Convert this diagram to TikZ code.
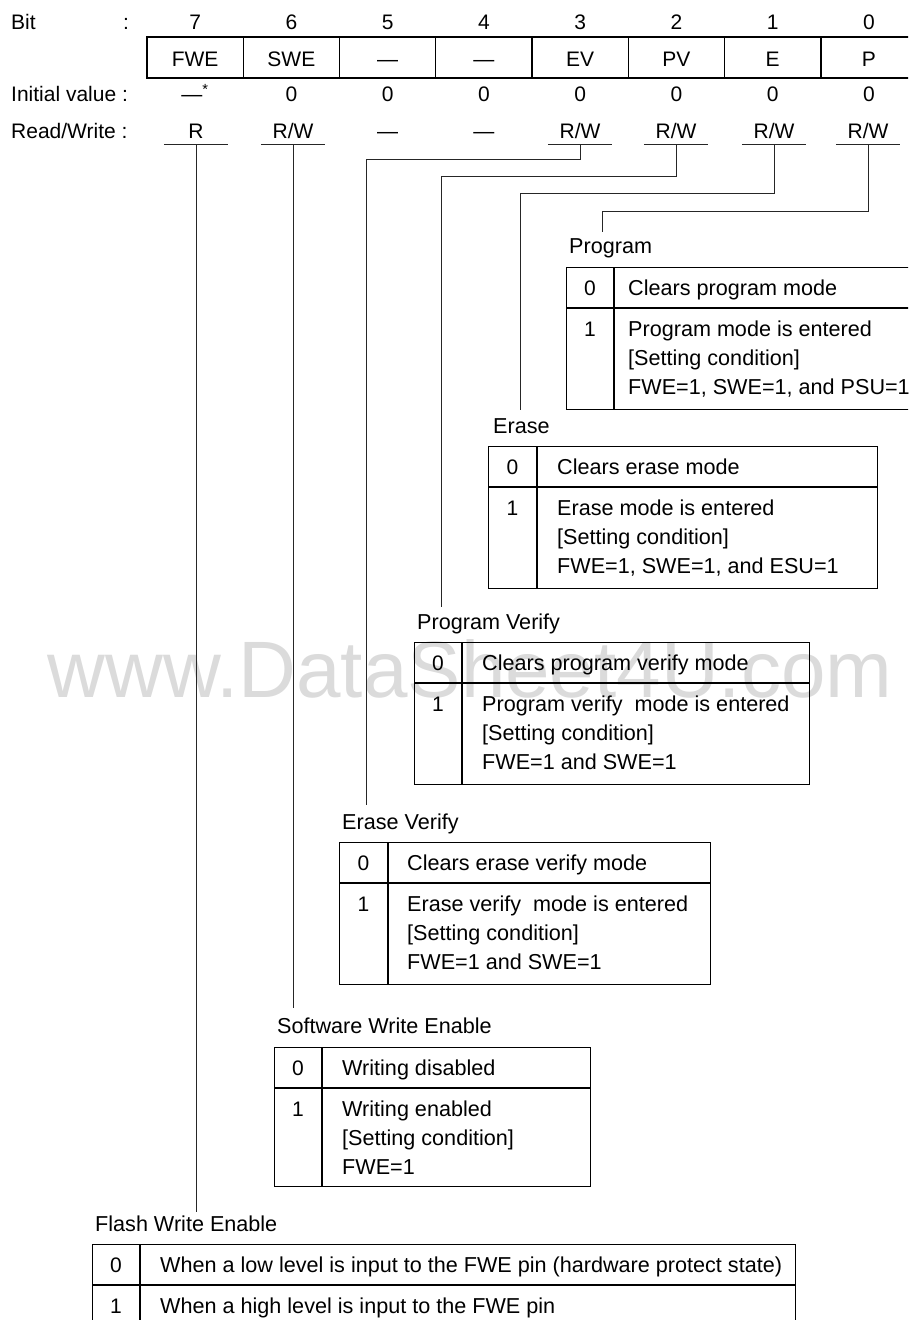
\documentclass[tikz,border=0pt]{standalone}
\usepackage{fontspec}
\setmainfont{Liberation Sans}
\begin{document}
\begin{tikzpicture}[x=1pt, y=-1pt,
  every node/.style={inner sep=0pt, font=\fontsize{21}{29}\selectfont},
  lbl/.style={anchor=base west, font=\fontsize{21.6}{29}\selectfont},
  num/.style={anchor=base},
  multi/.style={lbl, align=left},
  regcell/.style={draw, line width=1.2pt, minimum width=96.25pt, minimum height=41pt, text height=18pt, text depth=0pt},
  rw/.style={anchor=base, minimum width=64pt, text depth=6pt},
  frame/.style={draw, line width=1.2pt, anchor=north west, minimum height=142pt},
  rule/.style={line width=1.2pt},
  wire/.style={line width=1pt, black!85}]
\useasboundingbox (0,0) rectangle (908,1320);
\clip (0,0) rectangle (908,1320);
% watermark
\node[anchor=base, text=black!14, font=\fontsize{80}{80}\selectfont] (wm) at (470,697) {www.DataSheet4U.com};
% register
\node[anchor=base west] (bit) at (11,29.5) {Bit};
\node[num] (bitc) at (126,29.5) {:};
\node[num] (n7) at (195.1,29.5) {7};
\node[num] (n6) at (291.4,29.5) {6};
\node[num] (n5) at (387.6,29.5) {5};
\node[num] (n4) at (483.9,29.5) {4};
\node[num] (n3) at (580.1,29.5) {3};
\node[num] (n2) at (676.4,29.5) {2};
\node[num] (n1) at (772.6,29.5) {1};
\node[num] (n0) at (868.9,29.5) {0};
\node[regcell] (fwe) at (195.1,57.5) {FWE};
\node[regcell] (swe) at (291.4,57.5) {SWE};
\node[regcell] (b5) at (387.6,57.5) {—};
\node[regcell] (b4) at (483.9,57.5) {—};
\node[regcell] (ev) at (580.1,57.5) {EV};
\node[regcell] (pv) at (676.4,57.5) {PV};
\node[regcell] (e) at (772.6,57.5) {E};
\node[regcell, minimum width=130pt, anchor=west] (p) at (820.75,57.5) {};
\node[num] (ptxt) at (868.9,66.5) {P};
\node[anchor=base west] (init) at (11,101.7) {Initial value :};
\node[num] (i7) at (195.1,101.7) {—\textsuperscript{*}};
\node[num] (i6) at (291.4,101.7) {0};
\node[num] (i5) at (387.6,101.7) {0};
\node[num] (i4) at (483.9,101.7) {0};
\node[num] (i3) at (580.1,101.7) {0};
\node[num] (i2) at (676.4,101.7) {0};
\node[num] (i1) at (772.6,101.7) {0};
\node[num] (i0) at (868.9,101.7) {0};
\node[anchor=base west] (rwl) at (11,138.5) {Read/Write :};
\node[rw] (rw7) at (196,138.5) {R};
\node[rw] (rw6) at (293,138.5) {R/W};
\node[num] (rw5) at (387.6,138.5) {—};
\node[num] (rw4) at (483.9,138.5) {—};
\node[rw] (rw3) at (580,138.5) {R/W};
\node[rw] (rw2) at (676,138.5) {R/W};
\node[rw] (rw1) at (774,138.5) {R/W};
\node[rw] (rw0) at (868,138.5) {R/W};
\foreach \b in {7,6,3,2,1,0}
  \draw[wire] (rw\b.south west) -- (rw\b.south east);
% connectors
\coordinate (c7) at (196,1212);
\coordinate (c6) at (293,1008);
\coordinate (c3) at (366,805);
\coordinate (c2) at (441,607);
\coordinate (c1) at (520,410);
\coordinate (c0) at (602,232);
\draw[wire] (rw7.south) -- (c7);
\draw[wire] (rw6.south) -- (c6);
\draw[wire] (rw3.south) -- ++(0,14.5) -| (c3);
\draw[wire] (rw2.south) -- ++(0,31.5) -| (c2);
\draw[wire] (rw1.south) -- ++(0,48.5) -| (c1);
\draw[wire] (rw0.south) -- ++(0,66.5) -| (c0);
% Program
\node[lbl] (prg) at (569,253) {Program};
\node[frame, minimum width=380pt] (prgtab) at (566,267) {};
\draw[rule] ([yshift=-41pt]prgtab.north west) -- ([yshift=-41pt]prgtab.north east);
\draw[rule] ([xshift=48pt]prgtab.north west) -- ([xshift=48pt]prgtab.south west);
\node[num] (prg0) at (590,295) {0};
\node[lbl] (prg0t) at (628,295) {Clears program mode};
\node[num] (prg1) at (590,336) {1};
\node[multi] (prg1t) at (628,394) {Program mode is entered\\{[Setting condition]}\\FWE=1, SWE=1, and PSU=1};
% Erase
\node[lbl] (ers) at (493,433) {Erase};
\node[frame, minimum width=389pt] (erstab) at (488,446) {};
\draw[rule] ([yshift=-41pt]erstab.north west) -- ([yshift=-41pt]erstab.north east);
\draw[rule] ([xshift=49pt]erstab.north west) -- ([xshift=49pt]erstab.south west);
\node[num] (ers0) at (512.5,474) {0};
\node[lbl] (ers0t) at (557,474) {Clears erase mode};
\node[num] (ers1) at (512.5,515) {1};
\node[multi] (ers1t) at (557,573) {Erase mode is entered\\{[Setting condition]}\\FWE=1, SWE=1, and ESU=1};
% Program Verify
\node[lbl] (pvf) at (417,629) {Program Verify};
\node[frame, minimum width=395pt] (pvftab) at (414,642) {};
\draw[rule] ([yshift=-41pt]pvftab.north west) -- ([yshift=-41pt]pvftab.north east);
\draw[rule] ([xshift=48pt]pvftab.north west) -- ([xshift=48pt]pvftab.south west);
\node[num] (pvf0) at (438,670) {0};
\node[lbl] (pvf0t) at (482,670) {Clears program verify mode};
\node[num] (pvf1) at (438,711) {1};
\node[multi] (pvf1t) at (482,769) {Program verify~ mode is entered\\{[Setting condition]}\\FWE=1 and SWE=1};
% Erase Verify
\node[lbl] (evf) at (342,829) {Erase Verify};
\node[frame, minimum width=371pt] (evftab) at (339,842) {};
\draw[rule] ([yshift=-41pt]evftab.north west) -- ([yshift=-41pt]evftab.north east);
\draw[rule] ([xshift=49pt]evftab.north west) -- ([xshift=49pt]evftab.south west);
\node[num] (evf0) at (363.5,870) {0};
\node[lbl] (evf0t) at (407,870) {Clears erase verify mode};
\node[num] (evf1) at (363.5,911) {1};
\node[multi] (evf1t) at (407,969) {Erase verify~ mode is entered\\{[Setting condition]}\\FWE=1 and SWE=1};
% Software Write Enable
\node[lbl] (swen) at (277,1033) {Software Write Enable};
\node[frame, minimum width=316pt, minimum height=139pt] (swetab) at (274,1047) {};
\draw[rule] ([yshift=-41pt]swetab.north west) -- ([yshift=-41pt]swetab.north east);
\draw[rule] ([xshift=48pt]swetab.north west) -- ([xshift=48pt]swetab.south west);
\node[num] (swe0) at (298,1075) {0};
\node[lbl] (swe0t) at (342,1075) {Writing disabled};
\node[num] (swe1) at (298,1116) {1};
\node[multi] (swe1t) at (342,1174) {Writing enabled\\{[Setting condition]}\\FWE=1};
% Flash Write Enable
\node[lbl] (fwen) at (95,1231) {Flash Write Enable};
\node[frame, minimum width=703pt, minimum height=82pt] (fwetab) at (92,1244) {};
\draw[rule] ([yshift=-41pt]fwetab.north west) -- ([yshift=-41pt]fwetab.north east);
\draw[rule] ([xshift=48pt]fwetab.north west) -- ([xshift=48pt]fwetab.south west);
\node[num] (fwe0) at (116,1272) {0};
\node[lbl] (fwe0t) at (160,1272) {When a low level is input to the FWE pin (hardware protect state)};
\node[num] (fwe1) at (116,1313) {1};
\node[lbl] (fwe1t) at (160,1313) {When a high level is input to the FWE pin};
\end{tikzpicture}
\end{document}
